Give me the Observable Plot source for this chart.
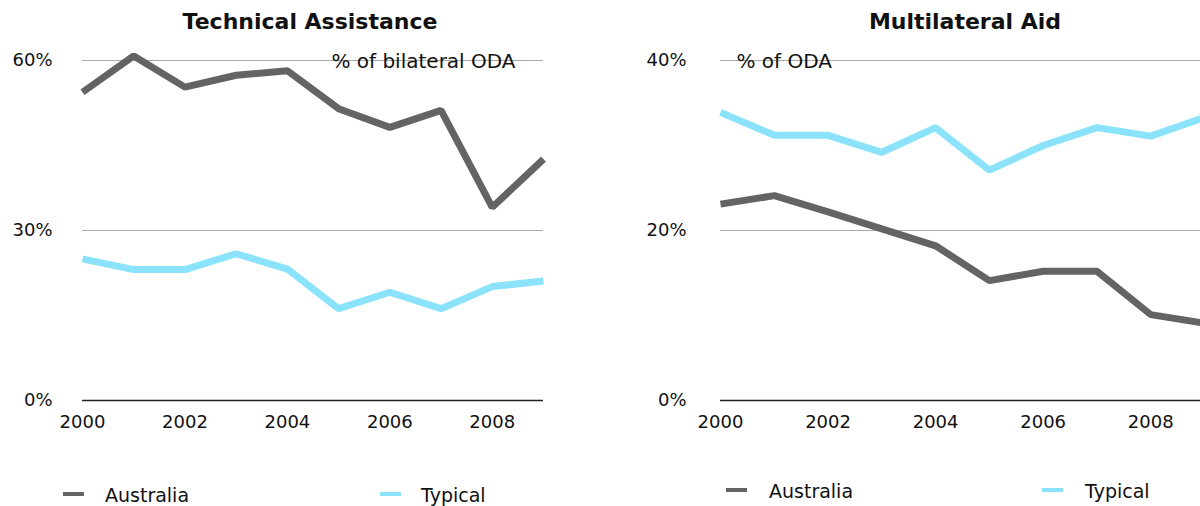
<!DOCTYPE html>
<html>
<head>
<meta charset="utf-8">
<script src="https://cdn.jsdelivr.net/npm/d3@7"></script>
<script src="https://cdn.jsdelivr.net/npm/@observablehq/plot@0.6"></script>
<style>
  html, body { margin: 0; padding: 0; background: #fff; }
  #root { position: relative; width: 1200px; height: 506px; overflow: hidden; font-family: "DejaVu Sans", sans-serif; color: #111; }
  .title { position: absolute; top: 11px; font-weight: bold; font-size: 22px; line-height: 22px; text-align: center; width: 400px; }
  .panel { position: absolute; top: 0; }
  .leg { position: absolute; font-size: 19px; line-height: 20px; }
  .sw { position: absolute; width: 21px; height: 4px; }
</style>
</head>
<body>
<div id="root"></div>
<script>
const years = [2000, 2001, 2002, 2003, 2004, 2005, 2006, 2007, 2008, 2009];
const seriesNames = ["Australia", "Typical"];
const colors = ["#646464", "#8be2fb"];

// Technical Assistance (% of bilateral ODA)
const taAustralia = [54.4, 60.8, 55.3, 57.4, 58.2, 51.5, 48.2, 51.2, 34.1, 42.6];
const taTypical   = [25.0, 23.1, 23.1, 25.9, 23.2, 16.2, 19.1, 16.2, 20.1, 21.1];
const taTicks = [0, 30, 60];

// Multilateral Aid (% of ODA)
const maAustralia = [23.1, 24.1, 22.2, 20.2, 18.2, 14.1, 15.2, 15.2, 10.1, 9.1];
const maTypical   = [33.9, 31.2, 31.2, 29.2, 32.1, 27.1, 30.0, 32.1, 31.1, 33.3];
const maTicks = [0, 20, 40];

const xTicks = [2000, 2002, 2004, 2006, 2008];

function toRows(a, t) {
  const rows = [];
  years.forEach((y, i) => rows.push({year: y, value: a[i], series: seriesNames[0]}));
  years.forEach((y, i) => rows.push({year: y, value: t[i], series: seriesNames[1]}));
  return rows;
}

function panel({rows, yTicks, yMax, note, noteAnchor, noteDx, width, marginLeft, marginRight, yPad}) {
  return Plot.plot({
    width, height: 440,
    marginTop: 60, marginBottom: 40, marginLeft, marginRight,
    style: {fontFamily: "DejaVu Sans, sans-serif", fontSize: "18px", color: "#111", background: "transparent", overflow: "visible"},
    x: {domain: [2000, 2009], ticks: xTicks, tickFormat: d => String(d), tickSize: 0, tickPadding: 15, label: null},
    y: {domain: [0, yMax], ticks: yTicks, tickFormat: d => d + "%", tickSize: 0, tickPadding: yPad, label: null},
    color: {domain: seriesNames, range: colors},
    marks: [
      Plot.ruleY(yTicks.filter(d => d > 0), {stroke: "#a8a8a8", strokeWidth: 1.2}),
      Plot.ruleY([0], {stroke: "#222", strokeWidth: 1.6}),
      Plot.line(rows, {x: "year", y: "value", z: "series", stroke: "series", strokeWidth: 7, strokeLinejoin: "miter", strokeLinecap: "butt"}),
      Plot.text([note], {frameAnchor: noteAnchor, dx: noteDx, dy: 1, text: d => d, fontSize: 20, fill: "#111", textAnchor: noteAnchor === "top-right" ? "end" : "start", lineAnchor: "middle"})
    ]
  });
}

const root = document.getElementById("root");

const left = panel({rows: toRows(taAustralia, taTypical), yTicks: taTicks, yMax: 60,
  note: "% of bilateral ODA", noteAnchor: "top-right", noteDx: -28,
  width: 600, marginLeft: 82, marginRight: 57, yPad: 30});
left.classList.add("panel"); left.style.left = "0px";
root.appendChild(left);

const right = panel({rows: toRows(maAustralia, maTypical), yTicks: maTicks, yMax: 40,
  note: "% of ODA", noteAnchor: "top-left", noteDx: 16,
  width: 604, marginLeft: 120, marginRight: 0, yPad: 34});
right.classList.add("panel"); right.style.left = "600px";
root.appendChild(right);

function addTitle(text, cx) {
  const d = document.createElement("div");
  d.className = "title"; d.textContent = text;
  d.style.left = (cx - 200) + "px";
  root.appendChild(d);
}
addTitle("Technical Assistance", 310);
addTitle("Multilateral Aid", 965);

function addLegend(swX, txX, cy, i) {
  const s = document.createElement("div");
  s.className = "sw"; s.style.left = swX + "px"; s.style.top = (cy - 3) + "px"; s.style.background = colors[i];
  root.appendChild(s);
  const t = document.createElement("div");
  t.className = "leg"; t.textContent = seriesNames[i];
  t.style.left = txX + "px"; t.style.top = (cy - 10) + "px";
  root.appendChild(t);
}
addLegend(63, 105, 495, 0);
addLegend(380, 421, 495, 1);
addLegend(726, 769, 491, 0);
addLegend(1042, 1085, 491, 1);
</script>
</body>
</html>
